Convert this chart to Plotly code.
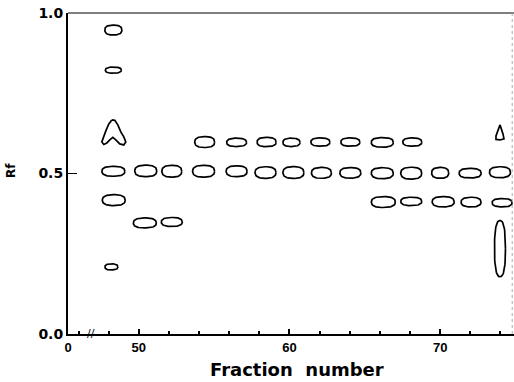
import numpy as np
import plotly.graph_objects as go

# ---- data (fraction number, Rf, spot extent) ----
# spots around Rf 0.5
row50_fraction = [48.31, 50.46, 52.19, 54.30, 56.49, 58.41, 60.26, 62.12, 64.04, 66.16, 68.08, 70.00, 71.99, 73.97]
row50_rf = [0.507, 0.508, 0.507, 0.507, 0.507, 0.503, 0.503, 0.502, 0.502, 0.501, 0.501, 0.502, 0.501, 0.504]
row50_width = [1.52, 1.46, 1.32, 1.46, 1.39, 1.39, 1.39, 1.32, 1.39, 1.46, 1.39, 1.13, 1.46, 1.39]
row50_height = [0.031, 0.036, 0.037, 0.037, 0.034, 0.036, 0.037, 0.034, 0.033, 0.034, 0.037, 0.034, 0.030, 0.034]

# spots around Rf 0.6
row60_fraction = [54.37, 56.49, 58.48, 60.13, 62.05, 64.04, 66.16, 68.15]
row60_rf = [0.598, 0.597, 0.598, 0.597, 0.598, 0.598, 0.597, 0.598]
row60_width = [1.32, 1.32, 1.26, 1.13, 1.26, 1.26, 1.46, 1.26]
row60_height = [0.034, 0.026, 0.029, 0.026, 0.026, 0.026, 0.030, 0.026]

# spots around Rf 0.4
row40_fraction = [48.34, 66.23, 68.08, 70.20, 72.05, 74.11]
row40_rf = [0.417, 0.411, 0.413, 0.412, 0.411, 0.409]
row40_width = [1.52, 1.59, 1.39, 1.46, 1.32, 1.32]
row40_height = [0.034, 0.034, 0.026, 0.032, 0.030, 0.026]

# spots around Rf 0.35
row35_fraction = [50.40, 52.19]
row35_rf = [0.346, 0.349]
row35_width = [1.52, 1.39]
row35_height = [0.031, 0.028]

# other single spots
other_fraction = [48.31, 48.31, 48.18, 73.97]
other_rf = [0.947, 0.822, 0.209, 0.266]
other_width = [1.13, 1.06, 0.86, 0.73]
other_height = [0.031, 0.019, 0.019, 0.175]

# irregular spots (arch-shaped at fraction 48, tear-drop at fraction 74)
arch_fraction, arch_rf, arch_width, arch_height = 48.34, 0.628, 1.59, 0.078
drop_fraction, drop_rf, drop_width, drop_height = 73.97, 0.628, 0.53, 0.047

x_tick_values = [45.3, 50, 60, 70]
x_tick_labels = ["0", "50", "60", "70"]
y_tick_values = [0.0, 0.5, 1.0]
y_tick_labels = ["0.0", "0.5", "1.0"]

# ---- outline templates (normalised shape of a spot) ----
arch_u = [-0.083, -0.208, -0.333, -0.458, -0.5, -0.417, -0.292, -0.167, -0.042, 0.083, 0.25, 0.417, 0.5, 0.417, 0.292, 0.167, 0.042, -0.083]
arch_v = [0.5, 0.34, 0.06, -0.22, -0.38, -0.48, -0.42, -0.3, -0.2, -0.3, -0.46, -0.5, -0.38, -0.18, 0.02, 0.3, 0.48, 0.5]
drop_u = [0.0, -0.25, -0.5, -0.5, 0.0, 0.5, 0.375, 0.125, 0.0]
drop_v = [0.5, 0.167, -0.233, -0.467, -0.5, -0.433, -0.1, 0.3, 0.5]

t = np.linspace(0, 2 * np.pi, 72)
ce, se = np.cos(t), np.sin(t)
su = 0.5 * np.sign(ce) * np.abs(ce) ** 0.8
sv = 0.5 * np.sign(se) * np.abs(se) ** 0.8

xs, ys = [], []
def add_blob(cx, cy, w, h):
    xs.extend(list(cx + su * w) + [None])
    ys.extend(list(cy + sv * h) + [None])

for F, R, W, H in [(row50_fraction, row50_rf, row50_width, row50_height),
                   (row60_fraction, row60_rf, row60_width, row60_height),
                   (row40_fraction, row40_rf, row40_width, row40_height),
                   (row35_fraction, row35_rf, row35_width, row35_height),
                   (other_fraction, other_rf, other_width, other_height)]:
    for cx, cy, w, h in zip(F, R, W, H):
        add_blob(cx, cy, w, h)

for cx, cy, w, h, U, V in [(arch_fraction, arch_rf, arch_width, arch_height, arch_u, arch_v),
                           (drop_fraction, drop_rf, drop_width, drop_height, drop_u, drop_v)]:
    xs.extend([cx + u * w for u in U] + [None])
    ys.extend([cy + v * h for v in V] + [None])

fig = go.Figure()
fig.add_trace(go.Scatter(x=xs, y=ys, mode="lines",
                         line=dict(color="black", width=1.7),
                         hoverinfo="skip", showlegend=False))

fig.update_layout(
    width=514, height=382,
    margin=dict(l=68, r=0, t=13, b=48),
    paper_bgcolor="white", plot_bgcolor="white",
    showlegend=False,
    xaxis=dict(range=[45.3, 74.9], tickmode="array", tickvals=x_tick_values, ticktext=x_tick_labels,
               ticks="inside", ticklen=5, tickwidth=1.5, tickcolor="black",
               showline=True, linewidth=2, linecolor="black", showgrid=False, zeroline=False,
               tickfont=dict(family="Liberation Sans", size=13, color="black", weight="bold"),
               minor=dict(tick0=50, dtick=2, ticks="inside", ticklen=3, tickcolor="black")),
    yaxis=dict(range=[0, 1.0], tickmode="array", tickvals=y_tick_values, ticktext=y_tick_labels,
               ticks="inside", ticklen=9, tickwidth=1.3, tickcolor="black",
               showline=True, linewidth=2, linecolor="black", showgrid=False, zeroline=False,
               tickfont=dict(family="DejaVu Sans", size=14, color="black", weight="bold")),
    shapes=[
        dict(type="line", xref="paper", yref="paper", x0=0, x1=1, y0=1, y1=1,
             line=dict(color="black", width=1.2)),
        dict(type="line", xref="paper", yref="paper", x0=0.996, x1=0.996, y0=0, y1=1,
             line=dict(color="#aaaaaa", width=1, dash="dot")),
    ],
    annotations=[
        dict(text="Fraction  number", xref="paper", yref="paper", x=0.513, y=-0.112,
             xanchor="center", yanchor="middle", showarrow=False,
             font=dict(family="DejaVu Sans", size=18, color="black", weight="bold")),
        dict(text="Rf", xref="paper", yref="paper", x=-0.128, y=0.511, textangle=-90,
             xanchor="center", yanchor="middle", showarrow=False,
             font=dict(family="DejaVu Sans", size=12, color="black", weight="bold")),
        dict(text="//", xref="x", yref="y", x=46.82, y=0.002, xanchor="center", yanchor="middle",
             showarrow=False, font=dict(family="DejaVu Sans", size=11, color="black")),
    ],
)

fig.write_html("out.html", config={"displayModeBar": False},
               post_script="document.body.style.margin='0px';document.body.style.overflow='hidden';")
